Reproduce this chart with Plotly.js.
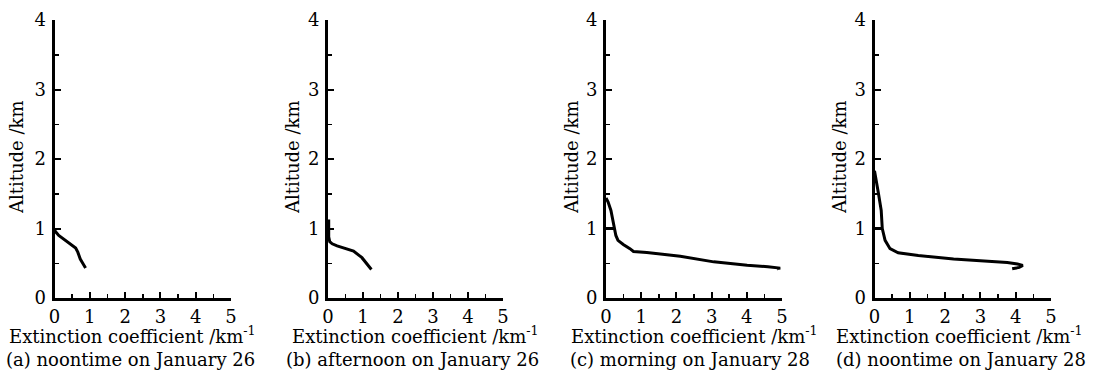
<!DOCTYPE html>
<html>
<head>
<meta charset="utf-8">
<script src="https://cdn.plot.ly/plotly-3.0.1.min.js"></script>
<style>html,body{margin:0;padding:0;background:#fff;}#chart{width:1095px;height:371px;}</style>
</head>
<body>
<div id="chart"></div>
<script>
// Panel (a) noontime on January 26
const aExt = [0.0, 0.02, 0.12, 0.31, 0.50, 0.60, 0.66, 0.73, 0.80, 0.88];
const aAlt = [1.00, 0.96, 0.90, 0.83, 0.77, 0.72, 0.66, 0.56, 0.50, 0.43];
// Panel (b) afternoon on January 26
const bExt = [0.02, 0.03, 0.02, 0.05, 0.12, 0.26, 0.50, 0.73, 0.97, 1.10, 1.24];
const bAlt = [1.13, 1.00, 0.88, 0.81, 0.78, 0.75, 0.71, 0.675, 0.58, 0.50, 0.41];
// Panel (c) morning on January 28
const cExt = [0.0, 0.06, 0.14, 0.20, 0.25, 0.28, 0.34, 0.49, 0.68, 0.78, 1.16, 2.11, 3.06, 4.01, 4.60, 4.90, 4.95, 4.85, null, 0.0, 0.25];
const cAlt = [1.44, 1.38, 1.26, 1.12, 1.00, 0.90, 0.83, 0.77, 0.71, 0.67, 0.655, 0.60, 0.52, 0.47, 0.45, 0.44, 0.43, 0.42, null, 1.00, 1.00];
// Panel (d) noontime on January 28
const dExt = [0.0, 0.05, 0.11, 0.19, 0.22, 0.30, 0.44, 0.67, 1.24, 2.24, 3.18, 3.76, 4.05, 4.20, 4.10, 3.90, null, 0.0, 0.22];
const dAlt = [1.83, 1.65, 1.51, 1.26, 1.00, 0.83, 0.71, 0.65, 0.61, 0.56, 0.53, 0.51, 0.49, 0.47, 0.44, 0.42, null, 1.00, 1.00];

const xTickVals = [0, 1, 2, 3, 4, 5];
const yTickVals = [0, 1, 2, 3, 4];
const xTitle = 'Extinction coefficient /km<sup>-1</sup>';
const yTitle = 'Altitude /km';
const captions = ['(a) noontime on January 26', '(b) afternoon on January 26', '(c) morning on January 28', '(d) noontime on January 28'];

const W = 1095, H = 371;
const FONT = 'DejaVu Serif';
// pixel layout of each panel's plot area
const panelsPx = [[54.5, 231], [328, 503], [606, 782], [874.5, 1051]];
const yTopPx = 20, yBotPx = 298;
const xTitleCenters = [132, 415, 694, 959];
const capCenters = [130, 412, 690, 961];
const yTitleX = [17, 293, 572, 840];

const series = [[aExt, aAlt], [bExt, bAlt], [cExt, cAlt], [dExt, dAlt]];
const data = series.map((s, i) => ({
  x: s[0], y: s[1], type: 'scatter', mode: 'lines',
  xaxis: i === 0 ? 'x' : 'x' + (i + 1),
  yaxis: i === 0 ? 'y' : 'y' + (i + 1),
  line: {color: '#000', width: 3},
  connectgaps: false,
  cliponaxis: false,
  hoverinfo: 'skip', showlegend: false
}));

const layout = {
  width: W, height: H,
  margin: {l: 0, r: 0, t: 0, b: 0},
  paper_bgcolor: '#fff', plot_bgcolor: '#fff',
  font: {family: FONT, color: '#000', size: 18},
  showlegend: false,
  annotations: []
};

panelsPx.forEach((p, i) => {
  const sx = i === 0 ? '' : String(i + 1);
  layout['xaxis' + sx] = {
    domain: [p[0] / W, p[1] / W],
    anchor: 'y' + sx,
    range: [0, 5],
    tickvals: xTickVals,
    ticks: 'inside', ticklen: 6, tickwidth: 2, tickcolor: '#000',
    minor: {dtick: 0.5, tick0: 0, ticks: 'inside', ticklen: 4, tickwidth: 1.5, tickcolor: '#000'},
    showline: true, linecolor: '#000', linewidth: 3,
    showgrid: false, zeroline: false,
    tickfont: {family: FONT, size: 18, color: '#000'},
    ticklabelstandoff: 0,
    fixedrange: true
  };
  layout['yaxis' + sx] = {
    domain: [1 - yBotPx / H, 1 - yTopPx / H],
    anchor: 'x' + sx,
    range: [0, 4],
    tickvals: yTickVals,
    ticks: 'inside', ticklen: 6, tickwidth: 2, tickcolor: '#000',
    minor: {dtick: 0.5, tick0: 0, ticks: 'inside', ticklen: 4, tickwidth: 1.5, tickcolor: '#000'},
    showline: true, linecolor: '#000', linewidth: 3,
    showgrid: false, zeroline: false,
    tickfont: {family: FONT, size: 18, color: '#000'},
    ticklabelstandoff: 2,
    fixedrange: true
  };
  layout.annotations.push({
    text: xTitle, xref: 'paper', yref: 'paper',
    x: xTitleCenters[i] / W, y: 1 - 335 / H, xanchor: 'center', yanchor: 'middle',
    showarrow: false, font: {family: FONT, size: 18, color: '#000'}
  });
  layout.annotations.push({
    text: captions[i], xref: 'paper', yref: 'paper',
    x: capCenters[i] / W, y: 1 - 359 / H, xanchor: 'center', yanchor: 'middle',
    showarrow: false, font: {family: FONT, size: 18, color: '#000'}
  });
  layout.annotations.push({
    text: yTitle, xref: 'paper', yref: 'paper', textangle: -90,
    x: yTitleX[i] / W, y: 1 - 157 / H, xanchor: 'center', yanchor: 'middle',
    showarrow: false, font: {family: FONT, size: 18, color: '#000'}
  });
});

Plotly.newPlot('chart', data, layout, {displayModeBar: false, staticPlot: true});
</script>
</body>
</html>
